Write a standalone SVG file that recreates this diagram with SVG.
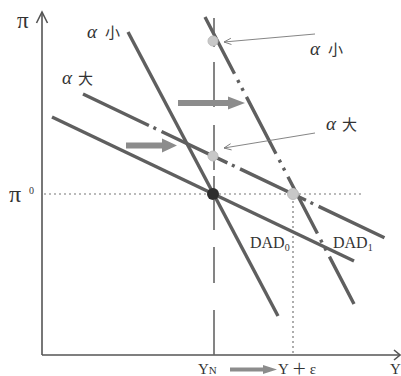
<svg xmlns="http://www.w3.org/2000/svg" width="401" height="376" viewBox="0 0 401 376">
<defs>
<style>
.axis{stroke:#555;stroke-width:1.6;fill:none}
.curve{stroke:#5f5f5f;stroke-width:3.4;fill:none;stroke-linecap:butt}
.steepdash{stroke-dasharray:64 7 3 6 3 7}
.flatdash{stroke-dasharray:73 5 3 6}
.guide{stroke:#777;stroke-width:1.2;fill:none;stroke-dasharray:2 3}
.vline{stroke:#666;stroke-width:1.6;fill:none}
.thin{stroke:#777;stroke-width:0.9;fill:none}
.block{fill:#8c8c8c}
.lbl{font-family:"Liberation Serif","Noto Sans CJK SC",serif;fill:#333}
.cjk{font-family:"Noto Sans CJK SC",sans-serif;fill:#333}
.pt{fill:#c8c8c8;stroke:#bdbdbd;stroke-width:1}
</style>
<marker id="open" viewBox="0 0 10 10" refX="9" refY="5" markerWidth="9" markerHeight="9" orient="auto" markerUnits="userSpaceOnUse">
<path d="M1,1.5 L9,5 L1,8.5" fill="none" stroke="#777" stroke-width="1"/>
</marker>
</defs>
<rect width="401" height="376" fill="#fff"/>

<g id="axes">
<line class="axis" x1="42" y1="12" x2="42" y2="355"/>
<polyline class="axis" points="36.5,23 42,12 47.5,23"/>
<line class="axis" x1="42" y1="355" x2="400" y2="355"/>
<polyline class="axis" points="394,350 400,355 394,360"/>
</g>

<g id="guides">
<line class="guide" x1="44" y1="194" x2="362" y2="194"/>
<line class="guide" x1="293" y1="196" x2="293" y2="355"/>
<path class="vline" d="M214,18 V47 M214,62 V107 M214,125 V170 M214,176 V194 M214,200 V230 M214,247 V283 M214,310 V355"/>
</g>

<g id="connectors">
<line class="curve" x1="128" y1="32" x2="278" y2="316"/>
<line class="curve steepdash" x1="205" y1="17" x2="354" y2="304"/>
<line class="curve" x1="52" y1="117" x2="354" y2="261"/>
<line class="curve flatdash" x1="83" y1="94" x2="387" y2="239"/>
<line class="thin" x1="315" y1="34" x2="224" y2="42" marker-end="url(#open)"/>
<line class="thin" x1="315" y1="133" x2="224" y2="148" marker-end="url(#open)"/>
</g>

<g id="shift-arrows">
<polygon class="block" points="178,100 228,100 228,96.5 245,103 228,109.5 228,106 178,106"/>
<polygon class="block" points="126,142.5 162,142.5 162,138.5 177,145.5 162,152.5 162,148.5 126,148.5"/>
<polygon class="block" points="230,367.5 263,367.5 263,365 277,369.5 263,374 263,371.5 230,371.5"/>
</g>

<g id="points">
<circle class="pt" cx="213" cy="41" r="5"/>
<circle class="pt" cx="213" cy="156" r="5"/>
<circle class="pt" cx="293" cy="194" r="5.5"/>
<circle cx="213" cy="194" r="6" fill="#2e2e2e"/>
</g>

<g id="labels">
<text class="lbl" x="17" y="28" font-size="23">π</text>
<text class="lbl" x="9" y="202" font-size="24">π</text>
<text class="lbl" x="29" y="194" font-size="10">0</text>
<text x="87" y="38"><tspan class="lbl" font-size="19" font-style="italic">α</tspan><tspan class="cjk" font-size="15" dx="8">小</tspan></text>
<text x="62" y="84"><tspan class="lbl" font-size="19" font-style="italic">α</tspan><tspan class="cjk" font-size="15" dx="6">大</tspan></text>
<text x="310" y="55"><tspan class="lbl" font-size="19" font-style="italic">α</tspan><tspan class="cjk" font-size="15" dx="8">小</tspan></text>
<text x="326" y="130"><tspan class="lbl" font-size="19" font-style="italic">α</tspan><tspan class="cjk" font-size="15" dx="6">大</tspan></text>
<text class="lbl" x="250" y="248" font-size="16">DAD<tspan font-size="10" dy="3">0</tspan></text>
<text class="lbl" x="333" y="248" font-size="16">DAD<tspan font-size="10" dy="3">1</tspan></text>
<text class="lbl" x="198" y="374" font-size="15">Y<tspan font-size="11">N</tspan></text>
<text class="lbl" x="278" y="374" font-size="15">Y<tspan dx="3">＋</tspan><tspan dx="3">ε</tspan></text>
<text class="lbl" x="390" y="374" font-size="15">Y</text>
</g>
</svg>
